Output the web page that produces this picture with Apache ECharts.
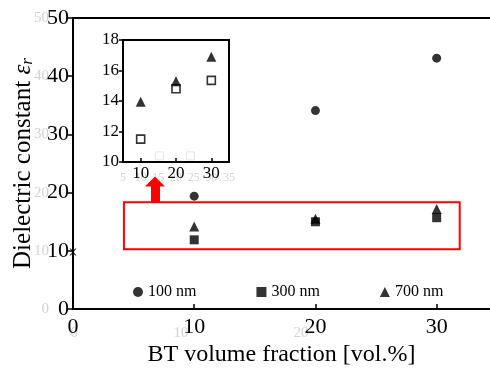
<!DOCTYPE html>
<html><head><meta charset="utf-8">
<script src="https://cdn.jsdelivr.net/npm/echarts@6/dist/echarts.min.js"></script>
<style>html,body{margin:0;padding:0;background:#fff}#c{width:490px;height:372px}</style>
</head><body><div id="c"></div>
<script>
// ---- data ----
const xMain = [10, 20, 30];
const main100 = [19.4, 34.1, 43.1];
const main300 = [11.9, 15.0, 15.7];
const main700 = [14.2, 15.5, 17.2];
const insetX = [10, 20, 30];
const inset300 = [11.5, 14.8, 15.35];
const inset700 = [13.95, 15.3, 16.9];
const pureMatrix = [[0, 9.8]];
const ghostInsetSquares = [[15.3, 10.4], [24.1, 10.4]];
const mainYTicks = [0, 10, 20, 30, 40, 50];
const mainXLabels = [0, 10, 20, 30];
const mainXTicks = [10, 20, 30];
const insetYTicks = [10, 12, 14, 16, 18];
const insetXTicks = [10, 20, 30];
const ghostInsetXLabels = [5, 10, 15, 20, 25, 30, 35];
const ghostMainXPos = [0.1, 8.9, 18.8];
const ghostMainXText = ['0', '10', '20'];
const highlightBox = [[4.2, 18.34], [31.9, 10.3]];
const arrowLine = [[6.76, 18.34], [6.76, 21.9]];
const seriesNames = ['100 nm', '300 nm', '700 nm'];

const F = 'Liberation Serif';
const BLACK = '#000';
const GHOST = '#d2d2d2';
const pair = (xs, ys) => xs.map((x, i) => [x, ys[i]]);

const chart = echarts.init(document.getElementById('c'), null, {renderer: 'canvas'});
chart.setOption({
  animation: false,
  backgroundColor: '#fff',
  grid: [
    {left: 73, top: 18, width: 417, height: 304},
    {left: 123, top: 40, width: 106, height: 122}
  ],
  legend: {
    data: seriesNames,
    left: 133, top: 284, padding: 0,
    itemWidth: 10, itemHeight: 10, itemGap: 60,
    textStyle: {fontFamily: F, fontSize: 16, color: BLACK},
    selectedMode: false
  },
  xAxis: [
    { // 0 main bottom
      gridIndex: 0, type: 'value', min: 0, max: 34.4, position: 'bottom', z: 3,
      axisLine: {show: true, onZero: false, lineStyle: {color: BLACK, width: 2}},
      axisTick: {show: true, inside: true, length: 5, customValues: mainXTicks, lineStyle: {color: BLACK, width: 1.5}},
      axisLabel: {customValues: mainXLabels, fontFamily: F, fontSize: 22, color: BLACK, margin: 7},
      splitLine: {show: false},
      name: 'BT volume fraction [vol.%]', nameLocation: 'middle', nameGap: 29,
      nameTextStyle: {fontFamily: F, fontSize: 24, color: BLACK}
    },
    { // 1 main top line
      gridIndex: 0, type: 'value', min: 0, max: 34.4, position: 'top',
      axisLine: {show: true, onZero: false, lineStyle: {color: BLACK, width: 2}},
      axisTick: {show: false}, axisLabel: {show: false}, splitLine: {show: false}
    },
    { // 2 main ghost labels
      gridIndex: 0, type: 'value', min: 0, max: 34.4, position: 'bottom', offset: 5, z: 0,
      axisLine: {show: false}, axisTick: {show: false}, splitLine: {show: false},
      axisLabel: {customValues: ghostMainXPos, fontFamily: F, fontSize: 15, color: GHOST, margin: 11,
        formatter: v => ghostMainXText[ghostMainXPos.indexOf(v)] ?? ''}
    },
    { // 3 inset bottom
      gridIndex: 1, type: 'value', min: 5, max: 35, position: 'bottom', z: 3,
      axisLine: {show: true, onZero: false, lineStyle: {color: BLACK, width: 2}},
      axisTick: {show: true, inside: true, length: 4, customValues: insetXTicks, lineStyle: {color: BLACK, width: 1.5}},
      axisLabel: {customValues: insetXTicks, fontFamily: F, fontSize: 17, color: BLACK, margin: 3},
      splitLine: {show: false}
    },
    { // 4 inset top line
      gridIndex: 1, type: 'value', min: 5, max: 35, position: 'top',
      axisLine: {show: true, onZero: false, lineStyle: {color: BLACK, width: 2}},
      axisTick: {show: false}, axisLabel: {show: false}, splitLine: {show: false}
    },
    { // 5 inset ghost labels
      gridIndex: 1, type: 'value', min: 5, max: 35, position: 'bottom', offset: 4, z: 0,
      axisLine: {show: false}, axisTick: {show: false}, splitLine: {show: false},
      axisLabel: {customValues: ghostInsetXLabels, fontFamily: F, fontSize: 12, color: GHOST, margin: 6}
    }
  ],
  yAxis: [
    { // 0 main left
      gridIndex: 0, type: 'value', min: 0, max: 50, interval: 10, z: 3,
      axisLine: {show: true, onZero: false, lineStyle: {color: BLACK, width: 2}},
      axisTick: {show: true, inside: false, length: 5, lineStyle: {color: BLACK, width: 1.5}},
      axisLabel: {customValues: mainYTicks, fontFamily: F, fontSize: 22, color: BLACK, margin: 4},
      splitLine: {show: false},
      name: 'Dielectric constant {e|ε}{r|r}', nameLocation: 'middle', nameGap: 37, nameRotate: 90,
      nameTextStyle: {fontFamily: F, fontSize: 25, color: BLACK,
        rich: {
          e: {fontFamily: F, fontSize: 25, fontStyle: 'italic', color: BLACK},
          r: {fontFamily: F, fontSize: 17, fontStyle: 'italic', color: BLACK, padding: [8, 0, 0, 0]}
        }}
    },
    { // 1 main ghost labels
      gridIndex: 0, type: 'value', min: 0, max: 50, interval: 10, position: 'left', offset: 24, z: 0,
      axisLine: {show: false}, axisTick: {show: false}, splitLine: {show: false},
      axisLabel: {fontFamily: F, fontSize: 15, color: GHOST, margin: 0}
    },
    { // 2 inset left
      gridIndex: 1, type: 'value', min: 10, max: 18, interval: 2, z: 3,
      axisLine: {show: true, onZero: false, lineStyle: {color: BLACK, width: 2}},
      axisTick: {show: true, inside: false, length: 4, lineStyle: {color: BLACK, width: 1.5}},
      axisLabel: {customValues: insetYTicks, fontFamily: F, fontSize: 17, color: BLACK, margin: 4},
      splitLine: {show: false}
    },
    { // 3 inset right line
      gridIndex: 1, type: 'value', min: 10, max: 18, position: 'right',
      axisLine: {show: true, onZero: false, lineStyle: {color: BLACK, width: 2}},
      axisTick: {show: false}, axisLabel: {show: false}, splitLine: {show: false}
    }
  ],
  series: [
    {
      name: seriesNames[0], type: 'scatter', xAxisIndex: 0, yAxisIndex: 0,
      symbol: 'circle', symbolSize: 9, itemStyle: {color: BLACK},
      data: pair(xMain, main100), z: 5,
      markArea: {
        silent: true,
        itemStyle: {color: 'rgba(0,0,0,0)', borderColor: '#ff0000', borderWidth: 2},
        data: [[{coord: highlightBox[0]}, {coord: highlightBox[1]}]]
      },
      markLine: {
        silent: true, animation: false,
        symbol: ['none', 'triangle'], symbolSize: [20, 10],
        lineStyle: {color: '#ff0000', width: 9, type: 'solid'},
        label: {show: false},
        emphasis: {disabled: true},
        data: [[{coord: arrowLine[0]}, {coord: arrowLine[1]}]]
      }
    },
    {
      name: seriesNames[1], type: 'scatter', xAxisIndex: 0, yAxisIndex: 0,
      symbol: 'rect', symbolSize: 9, itemStyle: {color: BLACK},
      data: pair(xMain, main300), z: 5
    },
    {
      name: seriesNames[2], type: 'scatter', xAxisIndex: 0, yAxisIndex: 0,
      symbol: 'triangle', symbolSize: 10, itemStyle: {color: BLACK},
      data: pair(xMain, main700), z: 5
    },
    {
      name: 'matrix', type: 'scatter', xAxisIndex: 0, yAxisIndex: 0, clip: false,
      symbol: 'path://M0,0 L2,0 L5,3.5 L8,0 L10,0 L6,5 L10,10 L8,10 L5,6.5 L2,10 L0,10 L4,5 Z',
      symbolSize: 7, itemStyle: {color: BLACK}, data: pureMatrix, z: 6
    },
    {
      name: 'ghost', type: 'scatter', xAxisIndex: 3, yAxisIndex: 2, clip: false,
      symbol: 'rect', symbolSize: 8,
      itemStyle: {color: '#fff', borderColor: '#dddddd', borderWidth: 1},
      data: ghostInsetSquares, z: 1
    },
    {
      name: 'inset300', type: 'scatter', xAxisIndex: 3, yAxisIndex: 2,
      symbol: 'rect', symbolSize: 8,
      itemStyle: {color: '#fff', borderColor: BLACK, borderWidth: 1.6},
      data: pair(insetX, inset300), z: 5
    },
    {
      name: 'inset700', type: 'scatter', xAxisIndex: 3, yAxisIndex: 2,
      symbol: 'triangle', symbolSize: 10, itemStyle: {color: BLACK},
      data: pair(insetX, inset700), z: 5
    }
  ]
});
</script>
</body></html>
